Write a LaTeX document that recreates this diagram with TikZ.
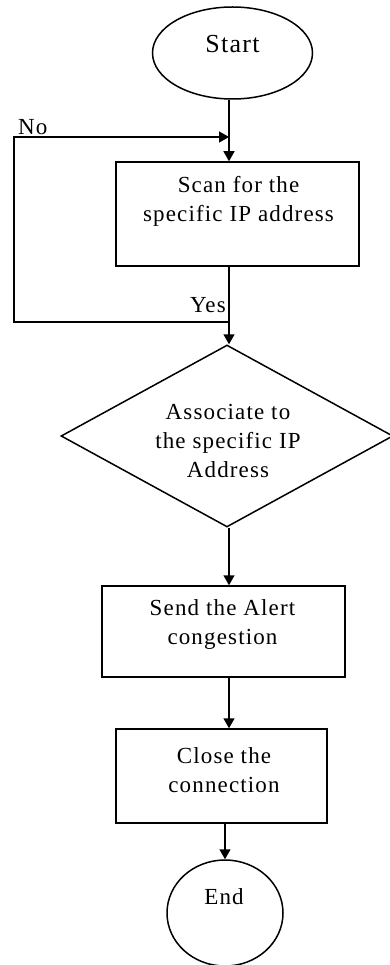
\documentclass[tikz,border=0pt]{standalone}
\usepackage{fontspec}
\setmainfont[LetterSpace=5]{Liberation Serif}
\usetikzlibrary{shapes.geometric,arrows.meta}

\tikzset{
  flow/.style={draw=black, line width=1.5pt},
  arr/.style={flow, -{Triangle[length=10pt,width=11pt]}},
  terminal/.style={flow, ellipse, inner sep=0pt},
  procbox/.style={flow, rectangle, inner sep=0pt},
  decide/.style={flow, diamond, inner sep=0pt},
  label/.style={align=center, inner sep=0pt, font=\fontsize{23}{29}\selectfont},
  tag/.style={inner sep=0pt, font=\fontsize{23}{29}\selectfont},
}

\begin{document}
\begin{tikzpicture}[x=1pt,y=-1pt]
  \useasboundingbox (0,0) rectangle (390,965);

  % main column the connectors follow
  \coordinate (spine) at (229,0);

  % shapes
  \node[terminal, minimum width=160pt, minimum height=92pt] (start) at (232.5,53) {};
  \node[procbox, minimum width=243pt, minimum height=104pt] (scan) at (237.5,214) {};
  \node[decide, minimum width=332pt, minimum height=182pt] (assoc) at (227,436) {};
  \node[procbox, minimum width=243pt, minimum height=91pt] (send) at (223.5,631.5) {};
  \node[procbox, minimum width=211pt, minimum height=94pt] (close) at (221.5,776) {};
  \node[terminal, minimum width=116pt, minimum height=106pt] (end) at (225,913) {};

  % texts
  \node[tag, font=\fontsize{26}{30}\selectfont] (start-t) at (232.5,44) {Start};
  \node[label] (scan-t) at (238.5,201) {Scan for the\\specific IP address};
  \node[label] (assoc-t) at (228,441) {Associate to\\the specific IP\\Address};
  \node[label] (send-t) at (222.5,624) {Send the Alert\\congestion};
  \node[label] (close-t) at (224,770) {Close the\\connection};
  \node[tag] (end-t) at (224,897) {End};

  % loop back when the address is not found
  \coordinate (yesturn) at (229,322);
  \coordinate (loopbl) at (14,322);
  \coordinate (looptl) at (14,137);
  \coordinate (loopin) at (229,137);
  \node[tag, anchor=base west] (no) at (18,135) {No};
  \node[tag, anchor=base east] (yes) at (226,312) {Yes};

  % connectors
  \draw[arr] (start.south -| spine) -- (scan.north -| spine);
  \draw[arr] (scan.south -| spine) -- (assoc.north -| spine);
  \draw[arr] (yesturn) -- (loopbl) -- (looptl) -- (loopin);
  \draw[arr] (assoc.south -| spine) -- (send.north -| spine);
  \draw[arr] (send.south -| spine) -- (close.north -| spine);
  \draw[arr] (close.south -| end) -- (end.north);
\end{tikzpicture}
\end{document}
